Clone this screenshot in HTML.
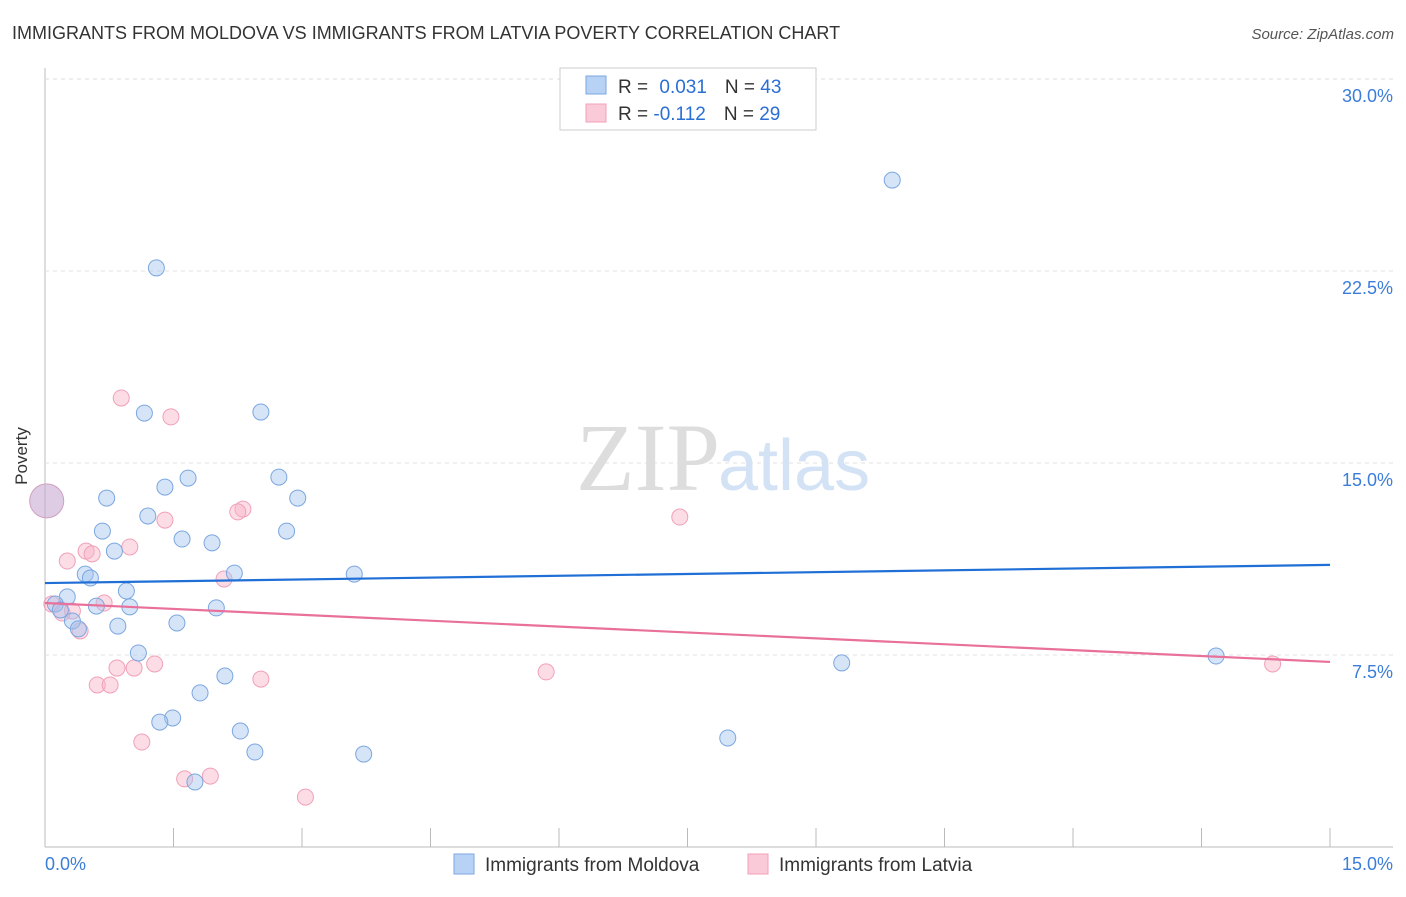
<!DOCTYPE html>
<html><head><meta charset="utf-8"><style>
body{margin:0;background:#fff;font-family:"Liberation Sans",sans-serif}
svg text{font-family:"Liberation Sans",sans-serif}
</style></head><body>
<svg width="1406" height="892">
<text x="12" y="39" font-size="18" fill="#333">IMMIGRANTS FROM MOLDOVA VS IMMIGRANTS FROM LATVIA POVERTY CORRELATION CHART</text>
<text x="1394" y="39" font-size="15" fill="#555" font-style="italic" text-anchor="end">Source: ZipAtlas.com</text>
<g id="grid"></g>
<text x="720" y="490" font-size="96" fill="#ddd" text-anchor="end" font-family="Liberation Serif" style="font-family:'Liberation Serif',serif">ZIP</text>
<text x="718" y="490" font-size="72" fill="#d3e2f5">atlas</text>
<g id="points"></g>
<text x="27" y="456" font-size="17" fill="#333" text-anchor="middle" transform="rotate(-90 27 456)">Poverty</text>
<g>
<rect x="560" y="68" width="256" height="62" fill="#fff" stroke="#ccc"/>
<rect x="586" y="76" width="20" height="18" fill="#b8d2f5" stroke="#7ba7e0"/>
<text x="618" y="93" font-size="19" fill="#333">R = <tspan fill="#2a6fd4" dx="6">0.031</tspan><tspan dx="18">N = </tspan><tspan fill="#2a6fd4">43</tspan></text>
<rect x="586" y="104" width="20" height="18" fill="#fbcad8" stroke="#f0a0b8"/>
<text x="618" y="120" font-size="19" fill="#333">R = <tspan fill="#2a6fd4">-0.112</tspan><tspan dx="18">N = </tspan><tspan fill="#2a6fd4">29</tspan></text>
</g>
<g>
<rect x="454" y="854" width="20" height="20" fill="#b8d2f5" stroke="#7ba7e0"/>
<text x="485" y="871" font-size="19" fill="#333">Immigrants from Moldova</text>
<rect x="748" y="854" width="20" height="20" fill="#fbcad8" stroke="#f0a0b8"/>
<text x="779" y="871" font-size="19" fill="#333">Immigrants from Latvia</text>
</g>
</svg>
<script>
const xTicksPct=[0,1.5,3,4.5,6,7.5,9,10.5,12,13.5,15];
const yTicks=[7.5,15,22.5,30];
const yTickLabels=["7.5%","15.0%","22.5%","30.0%"];
const moldovaX=[1.30,9.89,1.16,2.52,1.67,2.73,1.40,0.72,2.95,1.20,0.67,2.82,1.60,1.95,0.81,2.21,3.61,0.47,0.53,0.95,0.26,0.12,0.60,0.99,2.00,0.18,0.32,1.54,0.85,0.39,1.09,9.30,13.67,2.10,1.81,1.49,1.34,2.28,7.97,2.45,3.72,1.75];
const moldovaY=[22.62,26.05,16.95,16.99,14.41,14.45,14.06,13.63,13.63,12.93,12.34,12.34,12.03,11.88,11.56,10.70,10.66,10.66,10.51,10.00,9.77,9.49,9.41,9.38,9.34,9.26,8.83,8.75,8.63,8.52,7.58,7.19,7.46,6.68,6.02,5.04,4.88,4.53,4.26,3.71,3.63,2.54];
const latviaX=[0.89,1.47,1.40,2.31,2.25,7.41,0.99,0.48,0.55,0.26,2.09,0.69,0.08,0.32,0.20,0.41,1.28,0.84,1.04,5.85,14.33,2.52,0.61,0.76,1.13,1.63,1.93,3.04];
const latviaY=[17.54,16.80,12.77,13.20,13.09,12.89,11.72,11.56,11.45,11.17,10.47,9.53,9.49,9.22,9.14,8.44,7.15,6.99,6.99,6.84,7.15,6.56,6.33,6.33,4.10,2.66,2.77,1.95];
const bigPoint=[0.02,13.52];
const moldovaTrend=[10.31,11.02];
const latviaTrend=[9.53,7.23];
const NS="http://www.w3.org/2000/svg";
const sx=v=>45+v*1285/15, sy=v=>847-v*25.6;
function mk(t,a,p){const e=document.createElementNS(NS,t);for(const k in a)e.setAttribute(k,a[k]);p.appendChild(e);return e;}
const g=document.getElementById('grid'), pg=document.getElementById('points');
mk('line',{x1:45,y1:68,x2:45,y2:847,stroke:'#bbb'},g);
mk('line',{x1:45,y1:847,x2:1393,y2:847,stroke:'#bbb'},g);
mk('line',{x1:45,y1:79,x2:1393,y2:79,stroke:'#ddd','stroke-dasharray':'4,4'},g);
yTicks.forEach((t,i)=>{
 if(t<30){const l=mk('line',{x1:45,y1:sy(t),x2:1393,y2:sy(t),stroke:'#e2e2e2','stroke-dasharray':'4,4'},g);
 
 }
 const tx=mk('text',{x:1393,y:sy(t)+23,'font-size':18,fill:'#3b7dd8','text-anchor':'end'},g);
 tx.textContent=yTickLabels[i];
 
 
});
xTicksPct.forEach(t=>{
 const l=mk('line',{x1:sx(t),y1:828,x2:sx(t),y2:847,stroke:'#bbb'},g);
 
 
});
let a=mk('text',{x:45,y:870,'font-size':18,fill:'#3b7dd8'},g);a.textContent='0.0%';


a=mk('text',{x:1393,y:870,'font-size':18,fill:'#3b7dd8','text-anchor':'end'},g);a.textContent='15.0%';


function pts(X,Y,fill,stroke,name){X.forEach((x,i)=>{const c=mk('circle',{cx:sx(x),cy:sy(Y[i]),r:8,fill:fill,stroke:stroke,'stroke-width':1},pg);
 
 });}
pts(latviaX,latviaY,'rgba(248,180,200,0.45)','#f0a0b8','point-latvia');
pts(moldovaX,moldovaY,'rgba(164,196,240,0.45)','#7ba7e0','point-moldova');
let b=mk('circle',{cx:sx(bigPoint[0]),cy:sy(bigPoint[1]),r:17,fill:'rgba(200,170,210,0.6)',stroke:'#d0a0c0'},pg);


let t1=mk('line',{x1:sx(0),y1:sy(moldovaTrend[0]),x2:sx(15),y2:sy(moldovaTrend[1]),stroke:'#1f6fd6','stroke-width':2.2},pg);


let t2=mk('line',{x1:sx(0),y1:sy(latviaTrend[0]),x2:sx(15),y2:sy(latviaTrend[1]),stroke:'#e8709a','stroke-width':2.2},pg);


</script>
</body></html>
